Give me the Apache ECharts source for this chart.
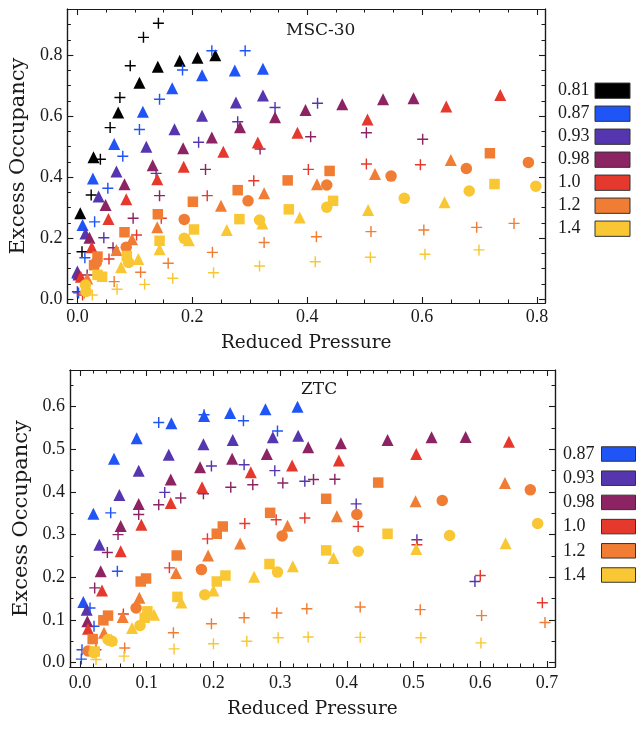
<!DOCTYPE html>
<html><head><meta charset="utf-8">
<script src="https://cdn.jsdelivr.net/npm/echarts@6/dist/echarts.min.js"></script>
<style>html,body{margin:0;padding:0;background:#fff}#c{width:638px;height:730px}</style>
</head><body><div id="c"></div>
<script>
// ---------- categories / legend ----------
const mscTemps = ['0.81','0.87','0.93','0.98','1.0','1.2','1.4'];
const ztcTemps = ['0.87','0.93','0.98','1.0','1.2','1.4'];
const tempColors = {'0.81':'#000000','0.87':'#1f54f7','0.93':'#5636ae','0.98':'#8c2464','1.0':'#e5392d','1.2':'#f07d33','1.4':'#f9c733'};

// ---------- tick labels ----------
const mscXTicks = [0, 0.2, 0.4, 0.6, 0.8];
const mscYTicks = [0, 0.2, 0.4, 0.6, 0.8];
const ztcXTicks = [0, 0.1, 0.2, 0.3, 0.4, 0.5, 0.6, 0.7];
const ztcYTicks = [0, 0.1, 0.2, 0.3, 0.4, 0.5, 0.6];

// ---------- MSC-30 data ----------
const msc081Tri = [[0.005,0.281],[0.028,0.465],[0.071,0.612],[0.108,0.709],[0.140,0.762],[0.178,0.781],[0.209,0.791],[0.240,0.799]];
const msc081Cross = [[0.008,0.155],[0.024,0.341],[0.040,0.458],[0.057,0.562],[0.074,0.661],[0.092,0.765],[0.115,0.858],[0.141,0.904]];
const msc087Tri = [[0.000,0.086],[0.009,0.243],[0.027,0.395],[0.064,0.508],[0.114,0.614],[0.165,0.691],[0.217,0.734],[0.274,0.749],[0.323,0.755]];
const msc087Cross = [[0.002,0.020],[0.013,0.135],[0.030,0.253],[0.053,0.363],[0.079,0.468],[0.108,0.556],[0.143,0.655],[0.183,0.751],[0.234,0.814],[0.292,0.814]];
const msc093Tri = [[0.000,0.090],[0.014,0.215],[0.037,0.336],[0.068,0.418],[0.120,0.499],[0.169,0.557],[0.217,0.601],[0.276,0.644],[0.323,0.667]];
const msc093Cross = [[0.000,0.024],[0.046,0.201],[0.137,0.412],[0.211,0.514],[0.279,0.581],[0.344,0.628],[0.418,0.642]];
const msc098Tri = [[0.002,0.080],[0.021,0.201],[0.049,0.308],[0.082,0.376],[0.131,0.439],[0.184,0.494],[0.234,0.530],[0.283,0.563],[0.344,0.596],[0.397,0.620],[0.461,0.639],[0.532,0.655],[0.585,0.658]];
const msc098Cross = [[0.017,0.079],[0.062,0.168],[0.097,0.265],[0.143,0.339],[0.223,0.425],[0.318,0.492],[0.406,0.532],[0.503,0.545],[0.601,0.524]];
const msc10Tri = [[0.006,0.073],[0.025,0.170],[0.054,0.262],[0.085,0.327],[0.139,0.393],[0.185,0.434],[0.254,0.483],[0.314,0.513],[0.383,0.545],[0.505,0.589],[0.642,0.631],[0.736,0.669]];
const msc10Cross = [[0.009,0.013],[0.055,0.131],[0.103,0.210],[0.146,0.265],[0.226,0.339],[0.307,0.388],[0.402,0.425],[0.503,0.443],[0.597,0.440]];
const msc12Sq = [[0.029,0.111],[0.035,0.139],[0.082,0.219],[0.140,0.278],[0.201,0.319],[0.279,0.357],[0.366,0.389],[0.439,0.420],[0.718,0.478]];
const msc12Tri = [[0.017,0.067],[0.068,0.161],[0.095,0.196],[0.139,0.235],[0.250,0.306],[0.325,0.347],[0.417,0.376],[0.518,0.410],[0.650,0.456]];
const msc12Circ = [[0.033,0.120],[0.085,0.170],[0.186,0.261],[0.297,0.322],[0.434,0.374],[0.546,0.403],[0.677,0.428],[0.785,0.448]];
const msc12Cross = [[0.012,0.020],[0.064,0.057],[0.110,0.088],[0.158,0.117],[0.235,0.153],[0.325,0.185],[0.416,0.204],[0.511,0.221],[0.603,0.226],[0.695,0.235],[0.760,0.248]];
const msc14Sq = [[0.035,0.079],[0.043,0.073],[0.086,0.141],[0.143,0.191],[0.203,0.228],[0.282,0.262],[0.368,0.294],[0.445,0.322],[0.726,0.377]];
const msc14Tri = [[0.076,0.104],[0.106,0.131],[0.143,0.163],[0.194,0.193],[0.260,0.226],[0.322,0.248],[0.387,0.267],[0.506,0.292],[0.639,0.317]];
const msc14Circ = [[0.014,0.046],[0.015,0.025],[0.089,0.120],[0.186,0.199],[0.317,0.259],[0.434,0.301],[0.569,0.330],[0.682,0.354],[0.798,0.370]];
const msc14Cross = [[0.026,0.013],[0.069,0.032],[0.117,0.048],[0.166,0.068],[0.237,0.086],[0.317,0.108],[0.414,0.122],[0.510,0.137],[0.605,0.147],[0.699,0.161]];

// ---------- ZTC data ----------
const ztc087Tri = [[0.005,0.142],[0.020,0.349],[0.051,0.478],[0.085,0.526],[0.137,0.561],[0.186,0.578],[0.225,0.585],[0.278,0.594],[0.326,0.600]];
const ztc087Cross = [[0.002,0.008],[0.003,0.030],[0.015,0.128],[0.021,0.085],[0.046,0.351],[0.056,0.214],[0.118,0.563],[0.186,0.581],[0.245,0.567],[0.296,0.543]];
const ztc093Tri = [[0.010,0.124],[0.029,0.276],[0.059,0.393],[0.088,0.450],[0.133,0.487],[0.185,0.512],[0.229,0.522],[0.289,0.528],[0.327,0.532]];
const ztc093Cross = [[0.127,0.399],[0.197,0.461],[0.246,0.464],[0.292,0.450],[0.337,0.425],[0.414,0.372],[0.505,0.288],[0.592,0.190]];
const ztc098Tri = [[0.011,0.097],[0.031,0.214],[0.061,0.320],[0.088,0.372],[0.136,0.429],[0.180,0.458],[0.228,0.478],[0.280,0.489],[0.342,0.505],[0.391,0.514],[0.461,0.522],[0.527,0.528],[0.578,0.529]];
const ztc098Cross = [[0.022,0.175],[0.041,0.258],[0.057,0.300],[0.088,0.347],[0.118,0.370],[0.151,0.386],[0.185,0.396],[0.226,0.411],[0.259,0.417],[0.304,0.421],[0.350,0.429],[0.382,0.430]];
const ztc10Tri = [[0.012,0.079],[0.033,0.169],[0.061,0.261],[0.092,0.323],[0.136,0.374],[0.183,0.411],[0.256,0.446],[0.318,0.462],[0.388,0.474],[0.504,0.489],[0.643,0.518]];
const ztc10Cross = [[0.024,0.030],[0.065,0.114],[0.134,0.222],[0.191,0.290],[0.247,0.326],[0.294,0.335],[0.337,0.339],[0.417,0.319],[0.505,0.276],[0.600,0.204],[0.693,0.140]];
const ztc12Sq = [[0.019,0.055],[0.035,0.099],[0.042,0.110],[0.091,0.190],[0.099,0.197],[0.145,0.251],[0.205,0.302],[0.214,0.319],[0.285,0.351],[0.369,0.384],[0.447,0.422]];
const ztc12Tri = [[0.036,0.070],[0.064,0.107],[0.089,0.152],[0.144,0.210],[0.192,0.251],[0.240,0.279],[0.311,0.321],[0.385,0.343],[0.503,0.378],[0.637,0.421]];
const ztc12Circ = [[0.012,0.027],[0.084,0.128],[0.182,0.218],[0.303,0.297],[0.415,0.347],[0.543,0.380],[0.675,0.405]];
const ztc12Cross = [[0.067,0.034],[0.140,0.070],[0.197,0.091],[0.246,0.105],[0.295,0.116],[0.340,0.126],[0.420,0.130],[0.510,0.124],[0.602,0.110],[0.697,0.094]];
const ztc14Sq = [[0.022,0.026],[0.097,0.105],[0.101,0.120],[0.146,0.154],[0.205,0.190],[0.218,0.204],[0.284,0.231],[0.369,0.263],[0.461,0.302]];
const ztc14Tri = [[0.047,0.054],[0.078,0.081],[0.111,0.112],[0.152,0.141],[0.200,0.169],[0.261,0.201],[0.319,0.226],[0.380,0.245],[0.504,0.266],[0.638,0.280]];
const ztc14Circ = [[0.021,0.023],[0.042,0.054],[0.048,0.050],[0.090,0.087],[0.187,0.159],[0.296,0.212],[0.417,0.261],[0.554,0.298],[0.686,0.326]];
const ztc14Cross = [[0.024,0.007],[0.066,0.015],[0.141,0.032],[0.200,0.044],[0.250,0.050],[0.297,0.058],[0.342,0.060],[0.420,0.059],[0.511,0.058],[0.601,0.046]];

const mscSets = [
  ['0.81','cross',msc081Cross],['0.81','triangle',msc081Tri],
  ['0.87','cross',msc087Cross],['0.87','triangle',msc087Tri],
  ['0.93','cross',msc093Cross],['0.93','triangle',msc093Tri],
  ['0.98','cross',msc098Cross],['0.98','triangle',msc098Tri],
  ['1.0','cross',msc10Cross],['1.0','triangle',msc10Tri],
  ['1.2','cross',msc12Cross],['1.2','square',msc12Sq],['1.2','triangle',msc12Tri],['1.2','circle',msc12Circ],
  ['1.4','cross',msc14Cross],['1.4','square',msc14Sq],['1.4','triangle',msc14Tri],['1.4','circle',msc14Circ]
];
const ztcSets = [
  ['0.87','cross',ztc087Cross],['0.87','triangle',ztc087Tri],
  ['0.93','cross',ztc093Cross],['0.93','triangle',ztc093Tri],
  ['0.98','cross',ztc098Cross],['0.98','triangle',ztc098Tri],
  ['1.0','cross',ztc10Cross],['1.0','triangle',ztc10Tri],
  ['1.2','cross',ztc12Cross],['1.2','square',ztc12Sq],['1.2','triangle',ztc12Tri],['1.2','circle',ztc12Circ],
  ['1.4','cross',ztc14Cross],['1.4','square',ztc14Sq],['1.4','triangle',ztc14Tri],['1.4','circle',ztc14Circ]
];

// ---------- styling ----------
const NUMFONT = 'Liberation Serif';
const TXTFONT = 'DejaVu Serif';
const INK = '#1a1a1a';
const CROSS = 'path://M4.35,0H5.65V4.35H10V5.65H5.65V10H4.35V5.65H0V4.35H4.35Z';
const shapeSymbol = {cross: CROSS, triangle: 'triangle', square: 'rect', circle: 'circle'};
const shapeSize = {cross: 11, triangle: 12, square: 10.5, circle: 11.5};

function minors(lo, hi, step, majors) {
  const out = [];
  for (let k = Math.ceil(lo / step - 1e-9); k * step <= hi + 1e-9; k++) {
    const v = Math.round(k * step * 1000) / 1000;
    if (v <= lo || v >= hi) continue;
    if (majors.some(m => Math.abs(m - v) < 1e-6)) continue;
    out.push(v);
  }
  return out;
}
const axisLine = {show: true, onZero: false, lineStyle: {color: INK, width: 1.2}};

function axesFor(dim, grid, min, max, majors, minorStep, name, nameGap, labelMargin) {
  const mins = minors(min, max, minorStep, majors);
  const posA = dim === 'x' ? 'bottom' : 'left';
  const posB = dim === 'x' ? 'top' : 'right';
  const base = {type: 'value', gridIndex: grid, min: min, max: max, splitLine: {show: false}, axisLine: axisLine};
  const main = Object.assign({}, base, {
    position: posA,
    axisTick: {show: true, inside: true, length: 6, customValues: majors, lineStyle: {color: INK, width: 1.1}},
    axisLabel: {show: true, customValues: majors, margin: labelMargin, formatter: v => v.toFixed(1),
      fontFamily: NUMFONT, fontSize: 18, color: INK},
    name: name, nameLocation: 'middle', nameGap: nameGap,
    nameTextStyle: {fontFamily: TXTFONT, fontSize: dim === 'x' ? 18.5 : 21, color: INK}
  });
  const mirror = Object.assign({}, base, {
    position: posB,
    axisTick: {show: true, inside: true, length: 6, customValues: majors, lineStyle: {color: INK, width: 1.1}},
    axisLabel: {show: false}
  });
  const minorA = Object.assign({}, base, {
    position: posA,
    axisTick: {show: true, inside: true, length: 3.5, customValues: mins, lineStyle: {color: INK, width: 1}},
    axisLabel: {show: false}
  });
  const minorB = Object.assign({}, base, {
    position: posB,
    axisTick: {show: true, inside: true, length: 3.5, customValues: mins, lineStyle: {color: INK, width: 1}},
    axisLabel: {show: false}
  });
  return [main, mirror, minorB, minorA];
}

const xAxis = [].concat(
  axesFor('x', 0, -0.0174, 0.8139, mscXTicks, 0.05, 'Reduced Pressure', 31, 5),
  axesFor('x', 1, -0.015, 0.712, ztcXTicks, 0.02, 'Reduced Pressure', 33, 7)
);
const yAxis = [].concat(
  axesFor('y', 0, -0.0131, 0.951, mscYTicks, 0.05, 'Excess Occupancy', 34, 5),
  axesFor('y', 1, -0.0105, 0.686, ztcYTicks, 0.05, 'Excess Occupancy', 36, 5)
);

function buildSeries(sets, axisIdx) {
  return sets.map(([t, shape, data]) => ({
    type: 'scatter', name: t, xAxisIndex: axisIdx, yAxisIndex: axisIdx,
    data: data, symbol: shapeSymbol[shape], symbolSize: shapeSize[shape],
    itemStyle: {color: tempColors[t], opacity: 1},
    emphasis: {disabled: true}, silent: true
  }));
}

function legendFor(temps, left, top, iconW, iconH, gap, textW) {
  return {
    orient: 'vertical', left: left, top: top, padding: 0, align: 'right',
    itemWidth: iconW, itemHeight: iconH, itemGap: gap, selectedMode: false,
    data: temps.map(t => ({name: t, icon: 'rect', itemStyle: {color: tempColors[t], borderColor: '#333', borderWidth: 1}})),
    formatter: n => '{a|' + n + '}',
    textStyle: {rich: {a: {width: textW, align: 'left', fontFamily: NUMFONT, fontSize: 18, lineHeight: iconH, color: INK}}}
  };
}

const option = {
  animation: false,
  backgroundColor: '#ffffff',
  title: [
    {text: 'MSC-30', left: 286, top: 22, padding: 0, textStyle: {fontFamily: TXTFONT, fontSize: 17, fontWeight: 'normal', color: INK}},
    {text: 'ZTC', left: 301, top: 381, padding: 0, textStyle: {fontFamily: TXTFONT, fontSize: 17, fontWeight: 'normal', color: INK}}
  ],
  grid: [
    {left: 67, top: 9, width: 478, height: 294},
    {left: 70, top: 370, width: 485, height: 297}
  ],
  legend: [
    legendFor(mscTemps, 558, 81.7, 35, 15.3, 5, 32),
    legendFor(ztcTemps, 563, 445, 34, 14.5, 6.2, 33.5)
  ],
  xAxis: xAxis,
  yAxis: yAxis,
  series: [].concat(buildSeries(mscSets, 0), buildSeries(ztcSets, 4))
};

const chart = echarts.init(document.getElementById('c'), null, {renderer: 'canvas'});
chart.setOption(option);
</script></body></html>
